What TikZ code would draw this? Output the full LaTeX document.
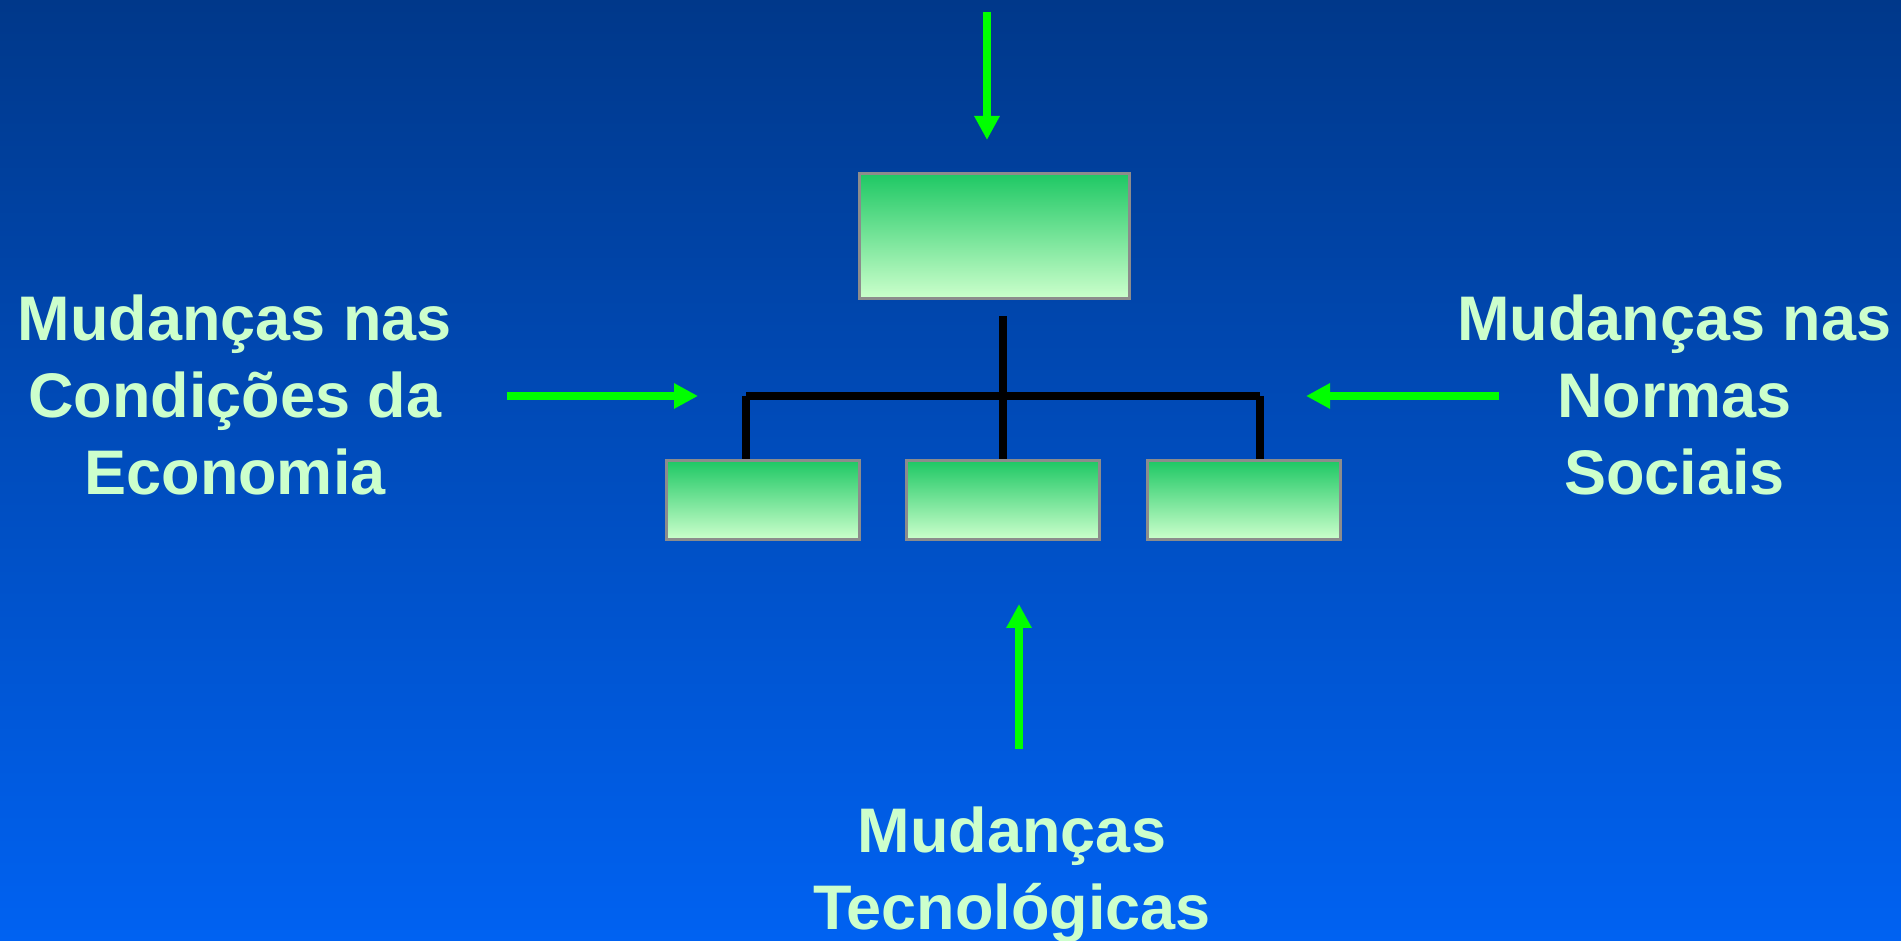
\documentclass[tikz,border=0pt]{standalone}
\usepackage{fontspec}
\setmainfont{Liberation Sans}
\usepackage{tikz}
\usetikzlibrary{positioning, calc, arrows.meta}

\begin{document}
\begin{tikzpicture}[
  x=0.5pt, y=0.5pt,
  caixa/.style={
    draw=gray!90,
    line width=1.5pt,
    top color=verdetopo,
    bottom color=verdeclaro,
    inner sep=0pt,
  },
  seta/.style={
    draw=verdeseta,
    line width=4pt,
    -{Triangle[length=12pt, width=12pt]},
  },
  linha/.style={
    draw=black,
    line width=4pt,
  },
  rotulo/.style={
    align=center,
    inner sep=0pt,
    text=verdeclaro,
    font=\fontsize{31.5}{38.5}\selectfont\bfseries,
  }
]
  \definecolor{azultopo}{RGB}{0,56,138}
  \definecolor{azulbase}{RGB}{0,98,242}
  \definecolor{verdetopo}{RGB}{30,200,100}
  \definecolor{verdeclaro}{RGB}{204,255,204}
  \definecolor{verdeseta}{RGB}{0,255,0}

  % fundo
  \fill[top color=azultopo, bottom color=azulbase] (0,0) rectangle (1901,941);
  \useasboundingbox (0,0) rectangle (1901,941);

  % organograma
  \node[caixa, minimum width=135pt, minimum height=62.5pt] (T) at (994.5,705) {};
  \node[caixa, minimum width=96.5pt, minimum height=39.5pt] (B1) at (763,441) {};
  \node[caixa, minimum width=96.5pt, minimum height=39.5pt] (B2) at (1003,441) {};
  \node[caixa, minimum width=96.5pt, minimum height=39.5pt] (B3) at (1243.5,441) {};

  \coordinate (barL) at (746,545);
  \coordinate (barR) at (1260,545);

  \draw[linha, shorten >=8pt] (B2.north) -- (B2.north |- T.south);
  \draw[linha] (barL) -- (barR);
  \draw[linha] (barL) -- (barL |- B1.north);
  \draw[linha] (barR) -- (barR |- B3.north);

  % forcas externas
  \node[rotulo] (econ) at (235,546)
  {
    Mudanças nas\\Condições da\\Economia
  };
  \node[rotulo] (normas) at (1674.5,546)
  {
    Mudanças nas\\Normas\\Sociais
  };
  \node[rotulo] (tec) at (1012,66.5)
  {
    Mudanças\\Tecnológicas
  };

  \coordinate (in-topo) at (987,929);
  \coordinate (in-econ) at (507,545);
  \coordinate (in-normas) at (1499,545);
  \coordinate (in-tec) at (1019,192);

  \draw[seta, shorten >=16pt] (in-topo) -- (in-topo |- T.north);
  \draw[seta, shorten >=24pt] (in-econ) -- (barL);
  \draw[seta, shorten >=23pt] (in-normas) -- (barR);
  \draw[seta, shorten >=31.5pt] (in-tec) -- (in-tec |- B2.south);
\end{tikzpicture}
\end{document}
